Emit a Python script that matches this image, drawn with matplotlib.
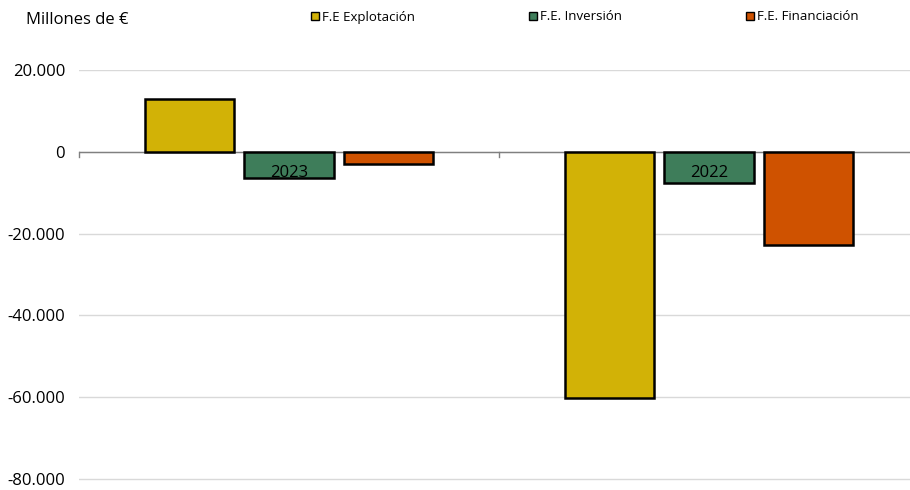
import matplotlib
matplotlib.use("Agg")
import matplotlib.pyplot as plt
from matplotlib.patches import Patch
from matplotlib.ticker import FuncFormatter
import numpy as np

categories = ["2023", "2022"]
series_names = ["F.E Explotación", "F.E. Inversión", "F.E. Financiación"]
explotacion = [12900, -60200]
inversion = [-6400, -7600]
financiacion = [-2900, -22900]
colors = ["#D2B206", "#3E7D5A", "#CF5200"]
yticks = [20000, 0, -20000, -40000, -60000, -80000]

plt.rcParams['font.family'] = ['Open Sans', 'DejaVu Sans']

fig = plt.figure(figsize=(9.1, 4.9), dpi=100)
ybot_px = 479 + 82 * 1000 / 20000
ax = fig.add_axes([79/910, 1-ybot_px/490, 1-79/910, (ybot_px-70)/490])

x = np.arange(len(categories))
w = 0.212
step = 0.236
for i, (vals, c) in enumerate(zip([explotacion, inversion, financiacion], colors)):
    ax.bar(x + (i-1)*step, vals, width=w, color=c, edgecolor="black", linewidth=1.8, zorder=3)

ax.set_xlim(-0.5, -0.5 + 831/420)
ax.set_ylim(-81000, 20000)
ax.set_yticks(yticks)
ax.yaxis.set_major_formatter(FuncFormatter(lambda v, p: "0" if v == 0 else f"{int(v):,}".replace(",", ".")))
ax.grid(axis="y", color="#D9D9D9", linewidth=1, zorder=0)
ax.axhline(0, color="#808080", linewidth=1, zorder=2)
for s in ax.spines.values():
    s.set_visible(False)
ax.tick_params(axis="y", length=0, labelsize=12, pad=10)
ax.set_xticks([])
# category tick marks on zero line
for xv in [-0.5, 0.5, 1.5]:
    ax.plot([xv, xv], [0, -1200], color="#808080", linewidth=1, zorder=2, clip_on=False)
for xi, cat in zip(x, categories):
    ax.text(xi, -5300, cat, ha="center", va="center", fontsize=12, zorder=5)

fig.text(26/910, 1-20/490, "Millones de €", fontsize=12, va="center", ha="left")

starts = [311, 529, 746]
for name, c, sx in zip(series_names, colors, starts):
    fig.legend(handles=[Patch(facecolor=c, edgecolor="black", linewidth=1)], labels=[name],
               loc="center left", bbox_to_anchor=(sx/910, 1-17/490), frameon=False,
               fontsize=9.5, handlelength=0.6, handleheight=0.6, handletextpad=0.2, borderpad=0, borderaxespad=0)

fig.savefig("out.png", dpi=100)
